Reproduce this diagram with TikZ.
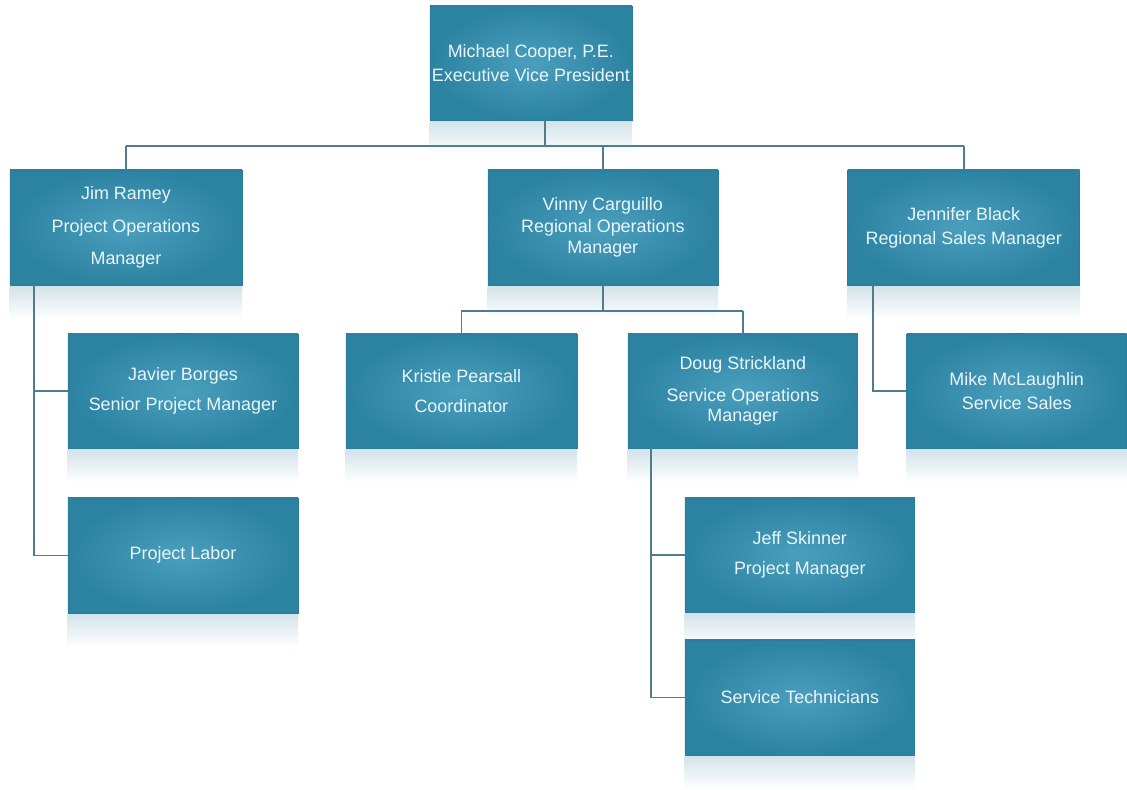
\documentclass[tikz,border=0pt]{standalone}
\usepackage{fontspec}
\setmainfont{Liberation Sans}
\definecolor{boxout}{HTML}{2C82A1}
\definecolor{boxin}{HTML}{4A9FBD}
\definecolor{boxedge}{HTML}{2A7C9A}
\definecolor{txt}{HTML}{EAF6FA}
\definecolor{wire}{HTML}{4F7D8C}
\definecolor{refl}{HTML}{D3E3EA}
\pgfdeclarelayer{bg}
\pgfsetlayers{bg,main}
\tikzset{
  box/.style={rectangle, inner sep=0pt, draw=boxedge, line width=0.6bp,
    inner color=boxin, outer color=boxout, text=txt, align=center,
    font=\fontsize{18}{24}\selectfont, minimum height=115bp},
  wire/.style={draw=wire, line width=1.5bp},
}
\newcommand{\reflof}[1]{\shade[top color=refl, bottom color=white]
  ([yshift=-1bp]#1.south west) rectangle ([yshift=-34bp]#1.south east);}
\begin{document}
\begin{tikzpicture}[x=1bp,y=-1bp]
\begin{pgfonlayer}{bg}
\useasboundingbox[fill=white] (0,0) rectangle (1127,787);
\end{pgfonlayer}
% nodes
\node[box, minimum width=202bp, minimum height=114bp] (top) at (531,63) {Michael Cooper, P.E.\\Executive Vice President};
\node[box, minimum width=232bp] (jim) at (126,227.5) {Jim Ramey\\[9bp]Project Operations\\[8bp]Manager};
\node[box, minimum width=230bp] (vin) at (603,227.5) {Vinny Carguillo\\[-2bp]Regional Operations\\[-2bp]Manager};
\node[box, minimum width=232bp] (jen) at (964,227.5) {Jennifer Black\\Regional Sales Manager};
\node[box, minimum width=230bp, minimum height=114bp] (jav) at (183,391) {Javier Borges\\[7bp]Senior Project Manager};
\node[box, minimum width=231bp, minimum height=114bp] (kri) at (461.5,391) {Kristie Pearsall\\[6bp]Coordinator};
\node[box, minimum width=230bp, minimum height=114bp] (dou) at (743,391) {Doug Strickland\\[8bp]Service Operations\\[-4bp]Manager};
\node[box, minimum width=220bp, minimum height=114bp] (mik) at (1017,391) {Mike McLaughlin\\Service Sales};
\node[box, minimum width=230bp] (lab) at (183,555.5) {Project Labor};
\node[box, minimum width=230bp, minimum height=114bp] (jef) at (800,555) {Jeff Skinner\\[6bp]Project Manager};
\node[box, minimum width=230bp] (tec) at (800,697.5) {Service Technicians};
% reflections (behind boxes)
\begin{pgfonlayer}{bg}
\foreach \n in {top,jim,vin,jen,jav,kri,dou,mik,lab,jef,tec}{\reflof{\n}}
\end{pgfonlayer}
% junction coordinates
\coordinate (bus) at (545,146);
\coordinate (vbus) at (603,311);
\coordinate (jstem) at (34,285.5);
\coordinate (estem) at (873,285.5);
\coordinate (dstem) at (651,448.5);
% connectors
\draw[wire] (top.south -| bus) -- (bus);
\draw[wire] (jim.north |- bus) -- (jen.north |- bus);
\draw[wire] (jim.north |- bus) -- (jim.north);
\draw[wire] (vin.north |- bus) -- (vin.north);
\draw[wire] (jen.north |- bus) -- (jen.north);
\draw[wire] (vin.south) -- (vbus);
\draw[wire] (kri.north |- vbus) -- (dou.north |- vbus);
\draw[wire] (kri.north |- vbus) -- (kri.north);
\draw[wire] (dou.north |- vbus) -- (dou.north);
\draw[wire] (jstem) |- (jav.west);
\draw[wire] (jstem) |- (lab.west);
\draw[wire] (estem) |- (mik.west);
\draw[wire] (dstem) |- (jef.west);
\draw[wire] (dstem) |- (tec.west);
\end{tikzpicture}
\end{document}
